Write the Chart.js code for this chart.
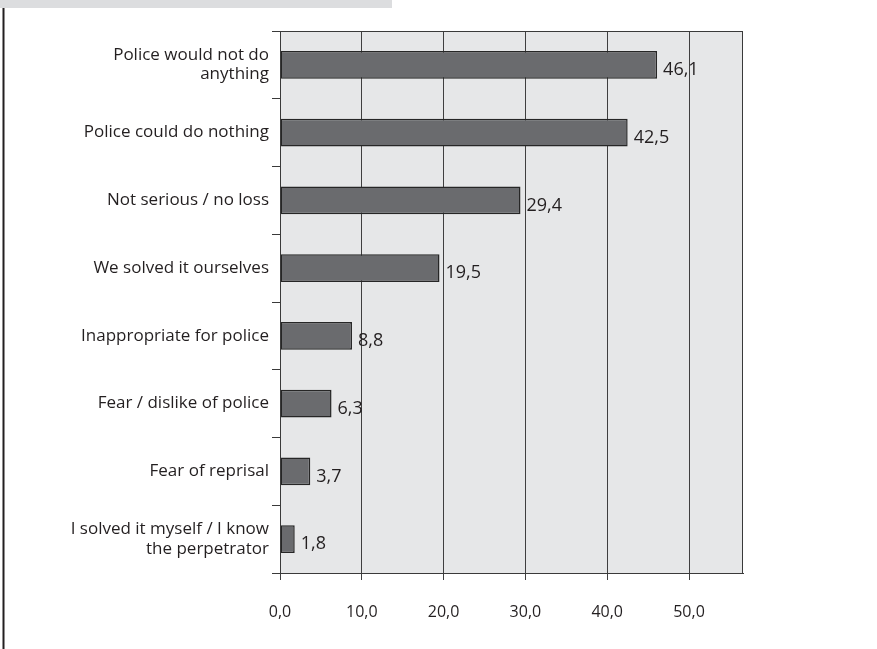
<!DOCTYPE html>
<html>
<head>
<meta charset="utf-8">
<script src="https://cdn.jsdelivr.net/npm/chart.js@4/dist/chart.umd.min.js"></script>
<style>
html,body{margin:0;padding:0;background:#fff;}
#wrap{width:877px;height:649px;position:relative;}
</style>
</head>
<body>
<div id="wrap"><canvas id="c"></canvas></div>
<script>
const categories = [
  ["Police would not do", "anything"],
  "Police could do nothing",
  "Not serious / no loss",
  "We solved it ourselves",
  "Inappropriate for police",
  "Fear / dislike of police",
  "Fear of reprisal",
  ["I solved it myself / I know", "the perpetrator"]
];
const values = [46.1, 42.5, 29.4, 19.5, 8.8, 6.3, 3.7, 1.8];
const xTicks = [0, 10, 20, 30, 40, 50];
const xMax = 56.6;

const TEXT = '#231f20';
const FONT = "'Open Sans', 'DejaVu Sans', sans-serif";

const decorPlugin = {
  id: 'decor',
  beforeDraw(chart) {
    const ctx = chart.ctx, a = chart.chartArea;
    ctx.save();
    ctx.fillStyle = '#dcdddf';
    ctx.fillRect(0, 0, 392, 8);
    ctx.fillStyle = '#231f20';
    ctx.fillRect(2.5, 8, 2, chart.height - 8);
    ctx.fillStyle = '#e6e7e8';
    ctx.fillRect(a.left, a.top, a.right - a.left, a.bottom - a.top);
    ctx.restore();
  },
  afterDatasetsDraw(chart) {
    const ctx = chart.ctx, a = chart.chartArea;
    ctx.save();
    ctx.strokeStyle = '#3a3a3a';
    ctx.lineWidth = 1;
    ctx.strokeRect(a.left + 0.5, a.top + 0.5, a.right - a.left - 1, a.bottom - a.top);
    const meta = chart.getDatasetMeta(0);
    ctx.font = "18px " + FONT;
    ctx.fillStyle = TEXT;
    ctx.textAlign = 'left';
    ctx.textBaseline = 'middle';
    meta.data.forEach((bar, i) => {
      const txt = values[i].toFixed(1).replace('.', ',');
      ctx.fillText(txt, bar.x + 6, bar.y + 5);
    });
    ctx.restore();
  }
};

new Chart(document.getElementById('c'), {
  type: 'bar',
  data: {
    labels: categories,
    datasets: [{
      data: values,
      backgroundColor: '#6a6b6e',
      borderColor: '#262626',
      borderWidth: 1.5,
      borderSkipped: false,
      categoryPercentage: 1.0,
      barPercentage: 0.41
    }]
  },
  options: {
    indexAxis: 'y',
    responsive: true,
    maintainAspectRatio: false,
    animation: false,
    layout: { padding: { top: 31, right: 134, left: 0, bottom: 0 } },
    plugins: { legend: { display: false }, tooltip: { enabled: false } },
    scales: {
      x: {
        min: 0,
        max: xMax,
        afterBuildTicks(scale) {
          scale.ticks = xTicks.map(v => ({ value: v }));
        },
        afterFit(scale) { scale.height = 76; },
        grid: {
          color: '#3f3f3f',
          lineWidth: 1,
          tickLength: 7,
          drawOnChartArea: true
        },
        border: { display: true, color: '#3a3a3a', width: 1 },
        ticks: {
          color: TEXT,
          font: { family: FONT, size: 16 },
          padding: 23,
          maxRotation: 0,
          callback: v => Number(v).toFixed(1).replace('.', ',')
        }
      },
      y: {
        afterFit(scale) { scale.width = 280; },
        grid: {
          offset: true,
          drawOnChartArea: false,
          color: '#3a3a3a',
          tickLength: 8
        },
        border: { display: true, color: '#3a3a3a', width: 1 },
        ticks: {
          color: TEXT,
          font: { family: FONT, size: 17, lineHeight: 1.15 },
          padding: 3,
          autoSkip: false
        }
      }
    }
  },
  plugins: [decorPlugin]
});
</script>
</body>
</html>
